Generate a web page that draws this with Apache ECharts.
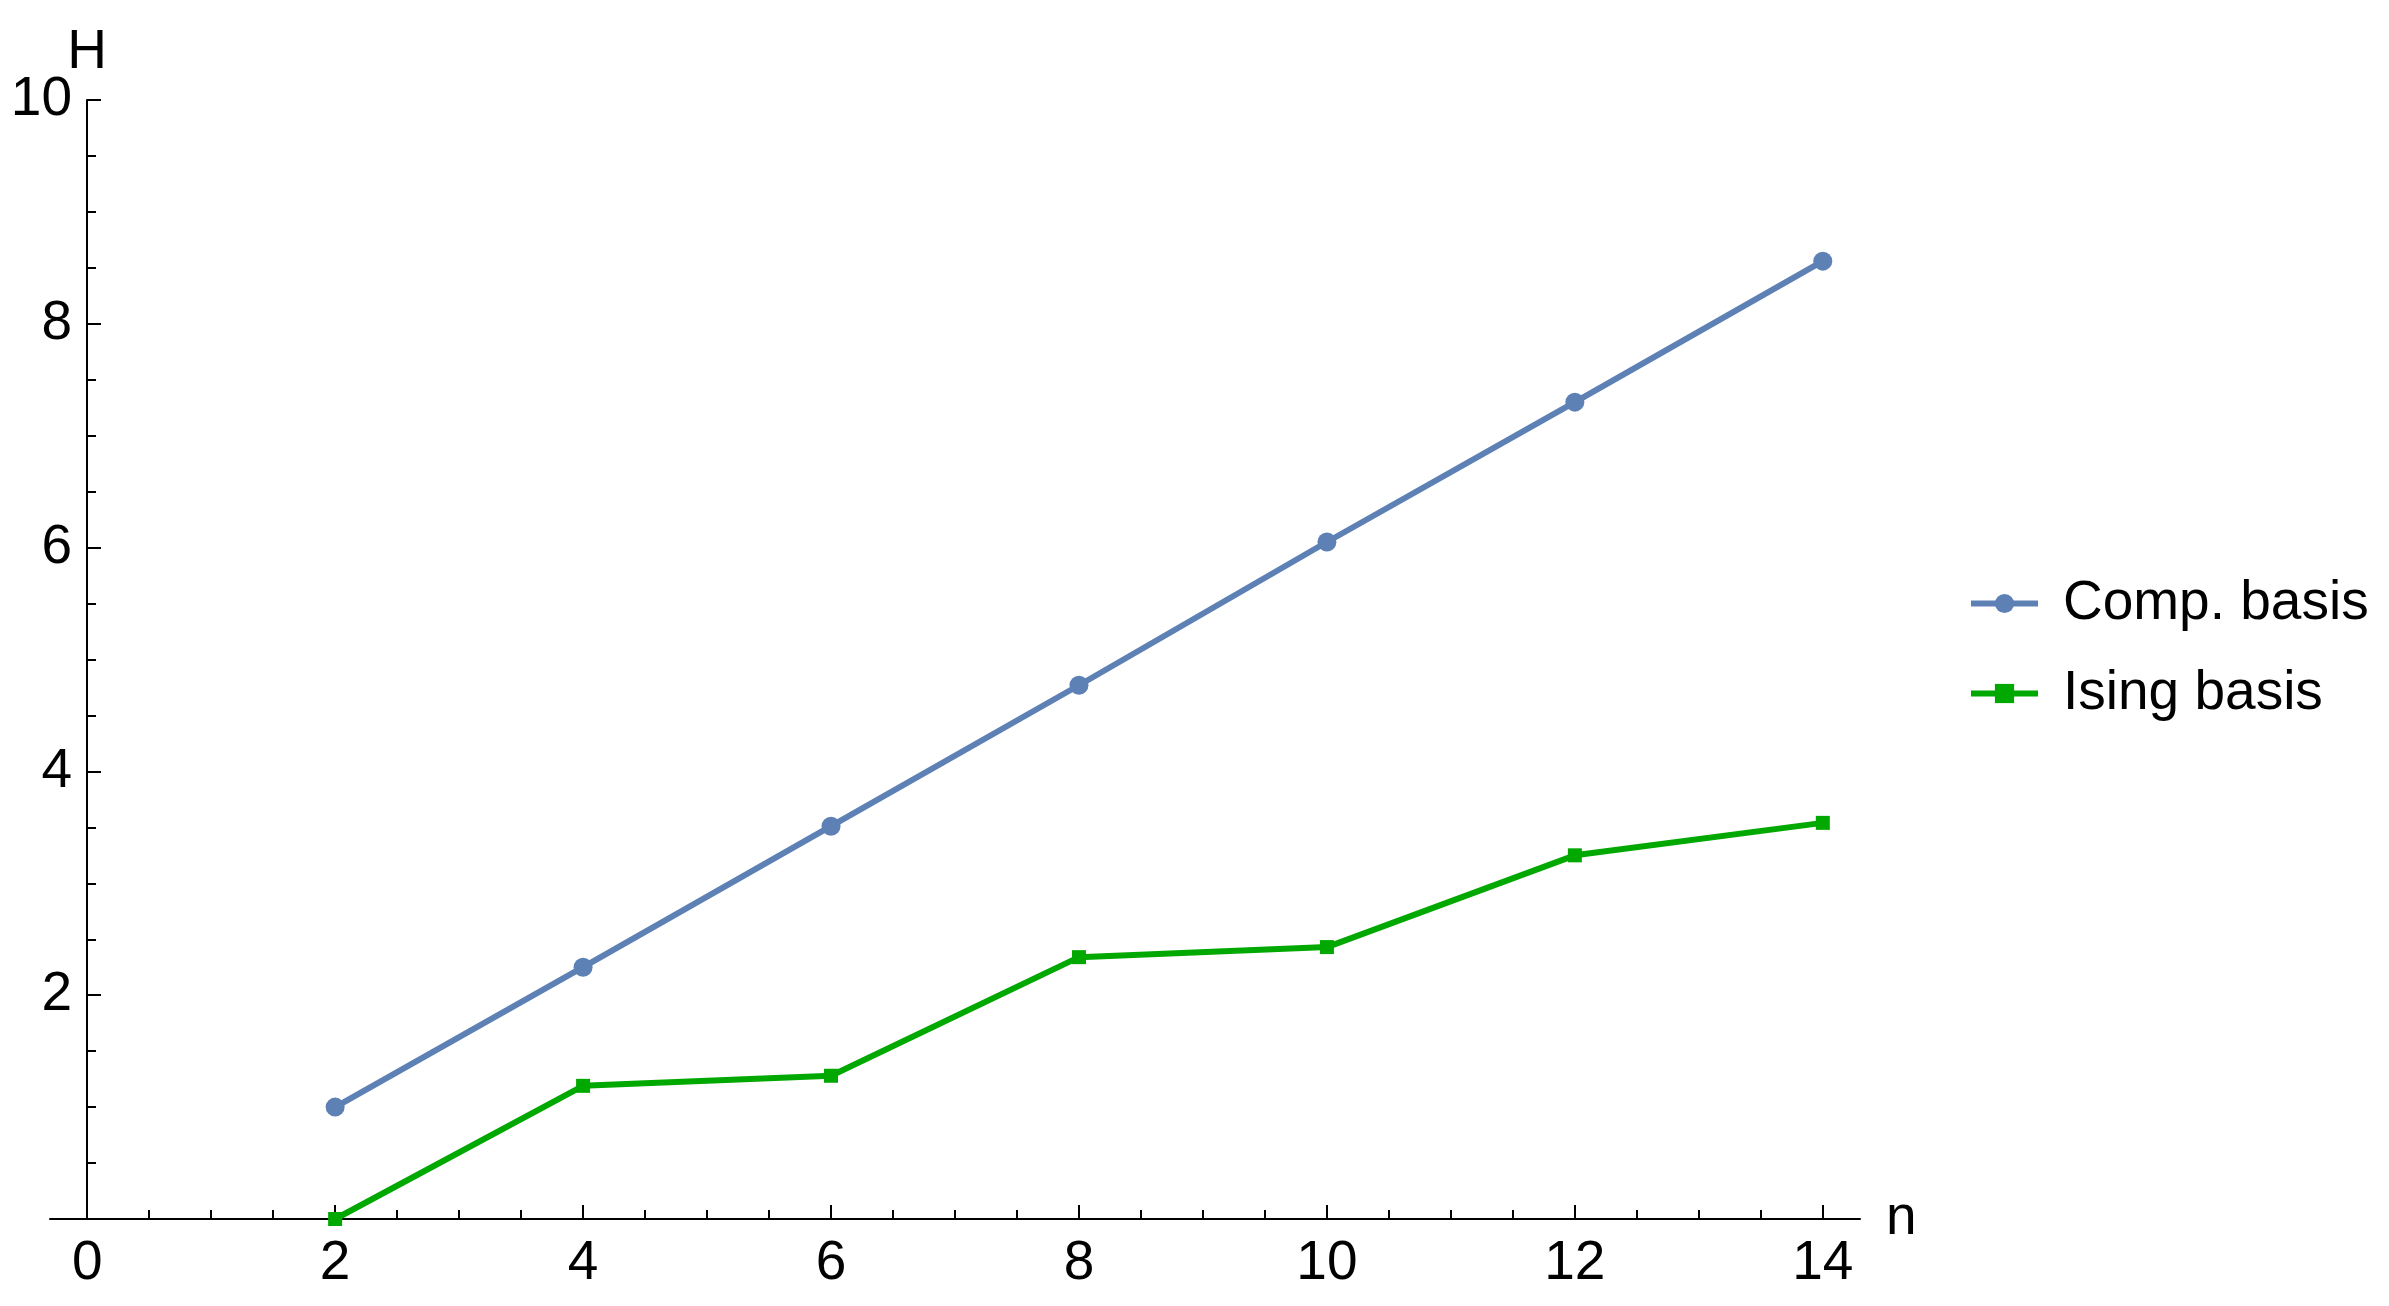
<!DOCTYPE html>
<html>
<head>
<meta charset="utf-8">
<title>H vs n</title>
<script src="https://cdn.jsdelivr.net/npm/echarts@6/dist/echarts.min.js"></script>
<style>
  html, body { margin: 0; padding: 0; background: #fff; }
  #chart { width: 2389px; height: 1306px; }
</style>
</head>
<body>
<div id="chart"></div>
<script>
  // data
  const nValues = [2, 4, 6, 8, 10, 12, 14]
  const compBasis = [1.0, 2.25, 3.51, 4.77, 6.05, 7.30, 8.56]
  const isingBasis = [0.0, 1.19, 1.28, 2.34, 2.43, 3.25, 3.54]
  const xMajorTicks = [0, 2, 4, 6, 8, 10, 12, 14]
  const xMinorTicks = [0.5, 1, 1.5, 2.5, 3, 3.5, 4.5, 5, 5.5, 6.5, 7, 7.5, 8.5, 9, 9.5, 10.5, 11, 11.5, 12.5, 13, 13.5]

  const font = 'Liberation Sans, Arial, sans-serif'
  const fs = 55
  const blue = '#5E81B5'
  const green = '#00A800'

  const toPairs = (ys) => nValues.map((n, i) => [n, ys[i]])

  let chart = echarts.init(document.getElementById('chart'))
  let option = {
    animation: false,
    backgroundColor: '#fff',
    textStyle: { fontFamily: font },
    grid: { left: 50, right: 529, top: 100, bottom: 87, containLabel: false, outerBoundsMode: 'none' },
    legend: {
      orient: 'vertical',
      left: 1968,
      top: 576,
      padding: 0,
      itemWidth: 67,
      itemHeight: 24,
      itemGap: 35,
      lineStyle: { width: 6 },
      textStyle: { fontSize: fs, color: '#000', lineHeight: 54, padding: [0, 0, 0, 20], fontFamily: font },
      data: ['Comp. basis', 'Ising basis']
    },
    xAxis: [
      {
        type: 'value',
        min: -0.3,
        max: 14.3,
        name: 'n',
        nameLocation: 'end',
        nameGap: 26,
        nameMoveOverlap: false,
        nameTextStyle: { fontSize: fs, color: '#000', fontFamily: font, padding: [0, 0, 8, 0] },
        axisLine: { onZero: true, lineStyle: { color: '#000', width: 2 } },
        axisTick: { show: true, inside: true, length: 14, customValues: xMajorTicks, lineStyle: { color: '#000', width: 2 } },
        axisLabel: { customValues: xMajorTicks, fontSize: fs, color: '#000', margin: 17, fontFamily: font },
        splitLine: { show: false }
      },
      {
        type: 'value',
        min: -0.3,
        max: 14.3,
        position: 'bottom',
        axisLine: { show: false },
        axisTick: { show: true, inside: true, length: 9, customValues: xMinorTicks, lineStyle: { color: '#000', width: 2 } },
        axisLabel: { show: false },
        splitLine: { show: false }
      }
    ],
    yAxis: {
      type: 'value',
      min: 0,
      max: 10,
      interval: 2,
      // sit the axis on n = 0: 0.3 units in from the grid's left edge
      offset: -37,
      name: 'H',
      nameLocation: 'end',
      nameGap: 20,
      nameMoveOverlap: false,
      nameTextStyle: { fontSize: fs, color: '#000', fontFamily: font, align: 'center' },
      axisLine: { show: true, onZero: false, lineStyle: { color: '#000', width: 2 } },
      axisTick: { show: true, inside: true, length: 14, lineStyle: { color: '#000', width: 2 } },
      minorTick: { show: true, splitNumber: 4, length: 9, lineStyle: { color: '#000', width: 2 } },
      axisLabel: { fontSize: fs, color: '#000', margin: 15, showMinLabel: false, fontFamily: font },
      splitLine: { show: false },
      minorSplitLine: { show: false }
    },
    series: [
      {
        name: 'Comp. basis',
        type: 'line',
        xAxisIndex: 0,
        data: toPairs(compBasis),
        symbol: 'circle',
        symbolSize: 19,
        showAllSymbol: true,
        clip: false,
        lineStyle: { color: blue, width: 6 },
        itemStyle: { color: blue }
      },
      {
        name: 'Ising basis',
        type: 'line',
        xAxisIndex: 0,
        data: toPairs(isingBasis),
        symbol: 'rect',
        symbolSize: 14,
        showAllSymbol: true,
        clip: false,
        lineStyle: { color: green, width: 6 },
        itemStyle: { color: green }
      }
    ]
  }
  chart.setOption(option)
</script>
</body>
</html>
